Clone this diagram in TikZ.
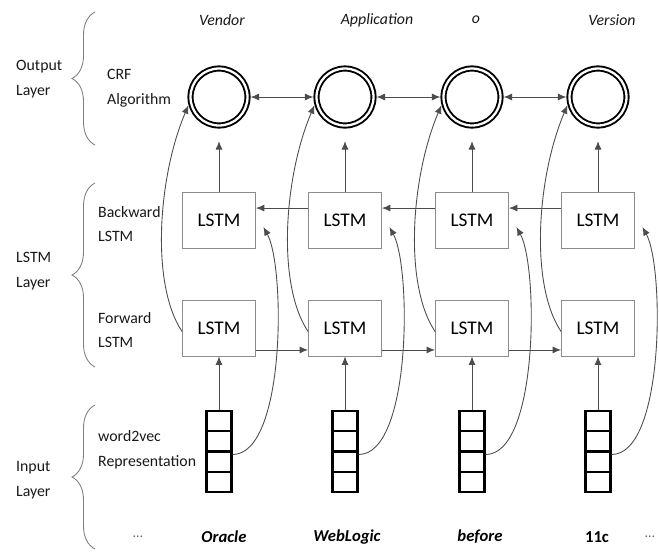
\documentclass[tikz,border=0pt]{standalone}
\usepackage{fontspec}
\setmainfont{Carlito}
\usetikzlibrary{arrows.meta,decorations.pathreplacing,calc}

\begin{document}
\begin{tikzpicture}[x=0.02cm,y=-0.02cm,line width=0.5pt,>={Latex[length=1.7mm,width=1.4mm]},
  lstm/.style={draw=black!45,fill=white,minimum width=1.46cm,minimum height=1.12cm,inner sep=0pt,font=\fontsize{11}{13}\selectfont},
  crf/.style={circle,draw=black,line width=1.1pt,double=white,double distance=1.3pt,minimum size=1.14cm,inner sep=0pt,outer sep=1.75pt},
  vecbox/.style={draw=black,line width=1.3pt,minimum width=0.5cm,minimum height=1.62cm,inner sep=0pt,
    path picture={\foreach \k in {1,2,3}
      \draw[line width=1.3pt] ($(path picture bounding box.north west)!\k/4!(path picture bounding box.south west)$) -- ($(path picture bounding box.north east)!\k/4!(path picture bounding box.south east)$);}},
  lbl/.style={anchor=west,align=left,inner sep=1pt,text=black!90,font=\fontsize{9}{14}\selectfont},
  word/.style={text=black!90,font=\fontsize{9}{11}\selectfont\itshape},
  token/.style={text=black,font=\fontsize{9.5}{11}\selectfont\bfseries\itshape},
  conn/.style={->,draw=black!70},
  grp/.style={draw=black!50,decorate,decoration={brace,amplitude=0.46cm}}]
  \useasboundingbox (0,0) rectangle (659,552);

  % columns: CRF, backward, forward, word2vec
  \foreach \n/\cx in {1/219,2/345,3/472,4/598} {
    \node[crf] (c\n) at (\cx,97) {};
    \node[lstm] (bw\n) at (\cx,220) {LSTM};
    \node[lstm] (fw\n) at (\cx,328) {LSTM};
    \node[vecbox] (v\n) at (\cx,451.5) {};
  }

  % tags and tokens
  \node[word] (t1) at (222,20) {Vendor};
  \node[word] (t2) at (377,20) {Application};
  \node[word] (t3) at (476,20) {o};
  \node[word] (t4) at (612,20) {Version};
  \node[text=black!60,font=\fontsize{8}{10}\selectfont] (w0) at (138,537) {\ldots};
  \node[token] (w1) at (224,537) {Oracle};
  \node[token] (w2) at (347,537) {WebLogic};
  \node[token] (w3) at (480,537) {before};
  \node[token,font=\fontsize{9.5}{11}\selectfont\bfseries] (w4) at (597,537) {11c};
  \node[text=black!60,font=\fontsize{8}{10}\selectfont] (w5) at (650,537) {\ldots};

  % layer labels
  \node[lbl] (outl) at (14,79) {Output\\Layer};
  \node[lbl] (crfl) at (105,88) {CRF\\Algorithm};
  \node[lbl] (bwl) at (96,224) {Backward\\LSTM};
  \node[lbl] (lstml) at (14,271) {LSTM\\Layer};
  \node[lbl] (fwl) at (96,330) {Forward\\LSTM};
  \node[lbl] (w2v) at (96,450) {word2vec\\Representation};
  \node[lbl] (inl) at (14,480) {Input\\Layer};
  \draw[grp] (95,145) -- (95,12);
  \draw[grp] (95,367) -- (95,183);
  \draw[grp] (95,549) -- (95,405);

  % chains
  \foreach \a/\b in {1/2,2/3,3/4} {
    \draw[<->,black!70] (c\a) -- (c\b);
    \draw[conn] ([yshift=-0.33cm]bw\b.north west) -- ([yshift=-0.33cm]bw\a.north east);
    \draw[conn] ([yshift=0.13cm]fw\a.south east) -- ([yshift=0.13cm]fw\b.south west);
  }

  % inputs to LSTMs, LSTMs to CRF
  \foreach \n in {1,...,4} {
    \draw[conn] (v\n) -- (fw\n);
    \draw[conn,shorten >=0.25cm] (bw\n) -- (c\n);
    \draw[conn] ([yshift=-2pt]fw\n.west) .. controls +(-32,-48) and +(-30,70) .. (c\n.195);
    \draw[conn] ([yshift=-0.06cm]v\n.east) .. controls +(53,0) and +(22,40) .. ([xshift=0.15cm,yshift=-0.14cm]bw\n.east);
  }
\end{tikzpicture}
\end{document}
